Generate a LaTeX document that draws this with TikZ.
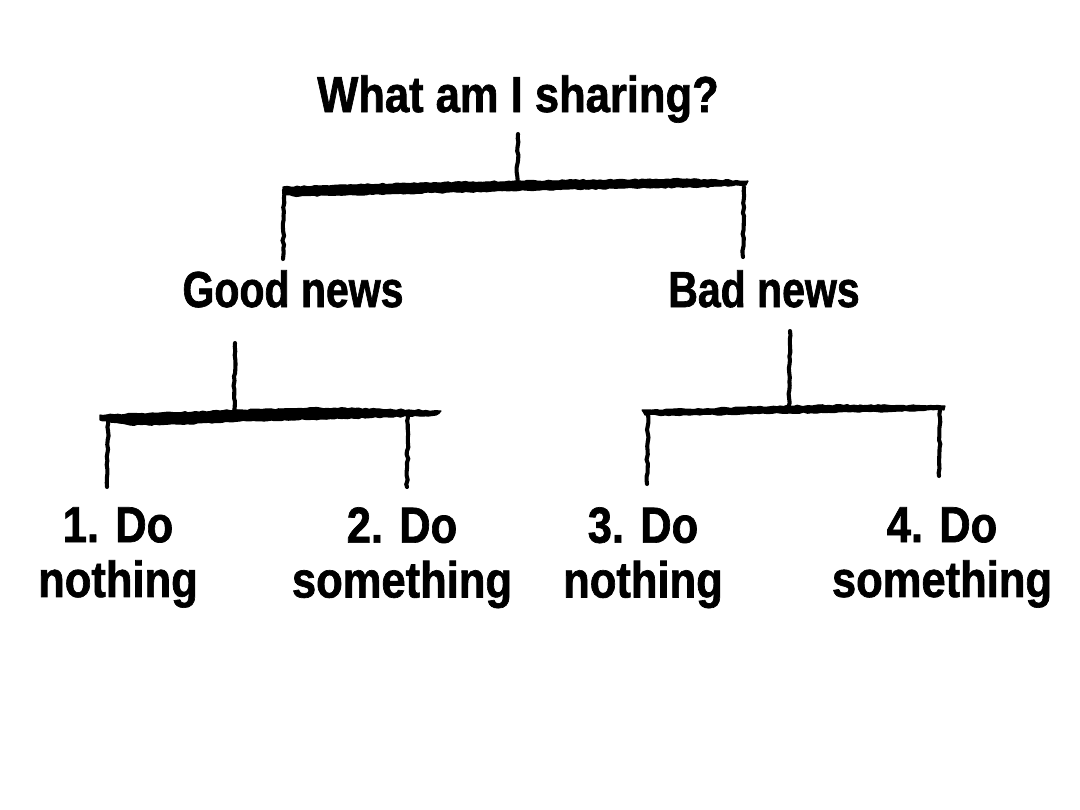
\documentclass[tikz,border=0pt]{standalone}
\usepackage{fontspec}
\newfontfamily\condfont[FakeStretch=0.81, BoldFeatures={FakeBold=1.3}]{Liberation Sans}
\newfontfamily\widefont[FakeStretch=0.86, BoldFeatures={FakeBold=1.3}]{Liberation Sans}
\usetikzlibrary{decorations.pathmorphing}
\begin{document}
\begin{tikzpicture}[x=0.025cm,y=-0.025cm,
  lbl/.style={font=\condfont\bfseries\fontsize{36}{39}\selectfont, inner sep=0pt, align=center, text=black},
  wlbl/.style={lbl, font=\widefont\bfseries\fontsize{36}{39}\selectfont},
  stem/.style={draw=black, line width=2.9pt, line cap=round, decorate, decoration={random steps, segment length=3pt, amplitude=0.6pt}},
  bar/.style={fill=black, draw=black, line width=0.8pt, line join=round, decorate, decoration={random steps, segment length=2.5pt, amplitude=0.5pt}}]
\useasboundingbox (0,0) rectangle (1080,810);
\fill[white] (0,0) rectangle (1080,810);

% labels
\node[wlbl, anchor=base] (root) at (518,112) {What am I sharing?};
\node[lbl, anchor=base] (good) at (293,307) {Good news};
\node[lbl, anchor=base] (bad) at (764,307) {Bad news};
\node[wlbl, anchor=north] (l1) at (118,507) {1. Do\\nothing};
\node[wlbl, anchor=north] (l2) at (402,507) {2. Do\\something};
\node[wlbl, anchor=north] (l3) at (643,507) {3. Do\\nothing};
\node[wlbl, anchor=north] (l4) at (942,507) {4. Do\\something};

% junction coordinates
\coordinate (rs) at (518,134);
\coordinate (rj) at (517,183);
\coordinate (rl) at (284,190);
\coordinate (rle) at (283,259);
\coordinate (rr) at (744,187);
\coordinate (rre) at (743,257);
\coordinate (gs) at (235,343);
\coordinate (gj) at (234,412);
\coordinate (gl) at (108,419);
\coordinate (gle) at (107,487);
\coordinate (gr) at (408,417);
\coordinate (gre) at (407,487);
\coordinate (bs) at (790,331);
\coordinate (bj) at (789,405);
\coordinate (bl) at (648,413);
\coordinate (ble) at (647,484);
\coordinate (br) at (940,410);
\coordinate (bre) at (939,476);

% top bracket
\draw[stem] (rs) -- (rj);
\fill[bar] (283,187) -- (340,185) -- (420,183) -- (520,181) -- (600,180) -- (680,179) -- (748,181)
  -- (746,185) -- (700,187) -- (620,188) -- (540,190) -- (460,192) -- (380,194) -- (300,196) -- (283,195) -- cycle;
\draw[stem] (rl) -- (rle);
\draw[stem] (rr) -- (rre);

% good news bracket
\draw[stem] (gs) -- (gj);
\fill[bar] (100,415) -- (160,413) -- (240,410) -- (320,408) -- (380,409) -- (441,411)
  -- (436,415) -- (390,417) -- (320,419) -- (240,421) -- (180,424) -- (130,425) -- (100,420) -- cycle;
\draw[stem] (gl) -- (gle);
\draw[stem] (gr) -- (gre);

% bad news bracket
\draw[stem] (bs) -- (bj);
\fill[bar] (642,410) -- (700,409) -- (780,406) -- (860,405) -- (945,406)
  -- (944,410) -- (860,412) -- (780,413) -- (700,415) -- (645,415) -- cycle;
\draw[stem] (bl) -- (ble);
\draw[stem] (br) -- (bre);
\end{tikzpicture}
\end{document}
